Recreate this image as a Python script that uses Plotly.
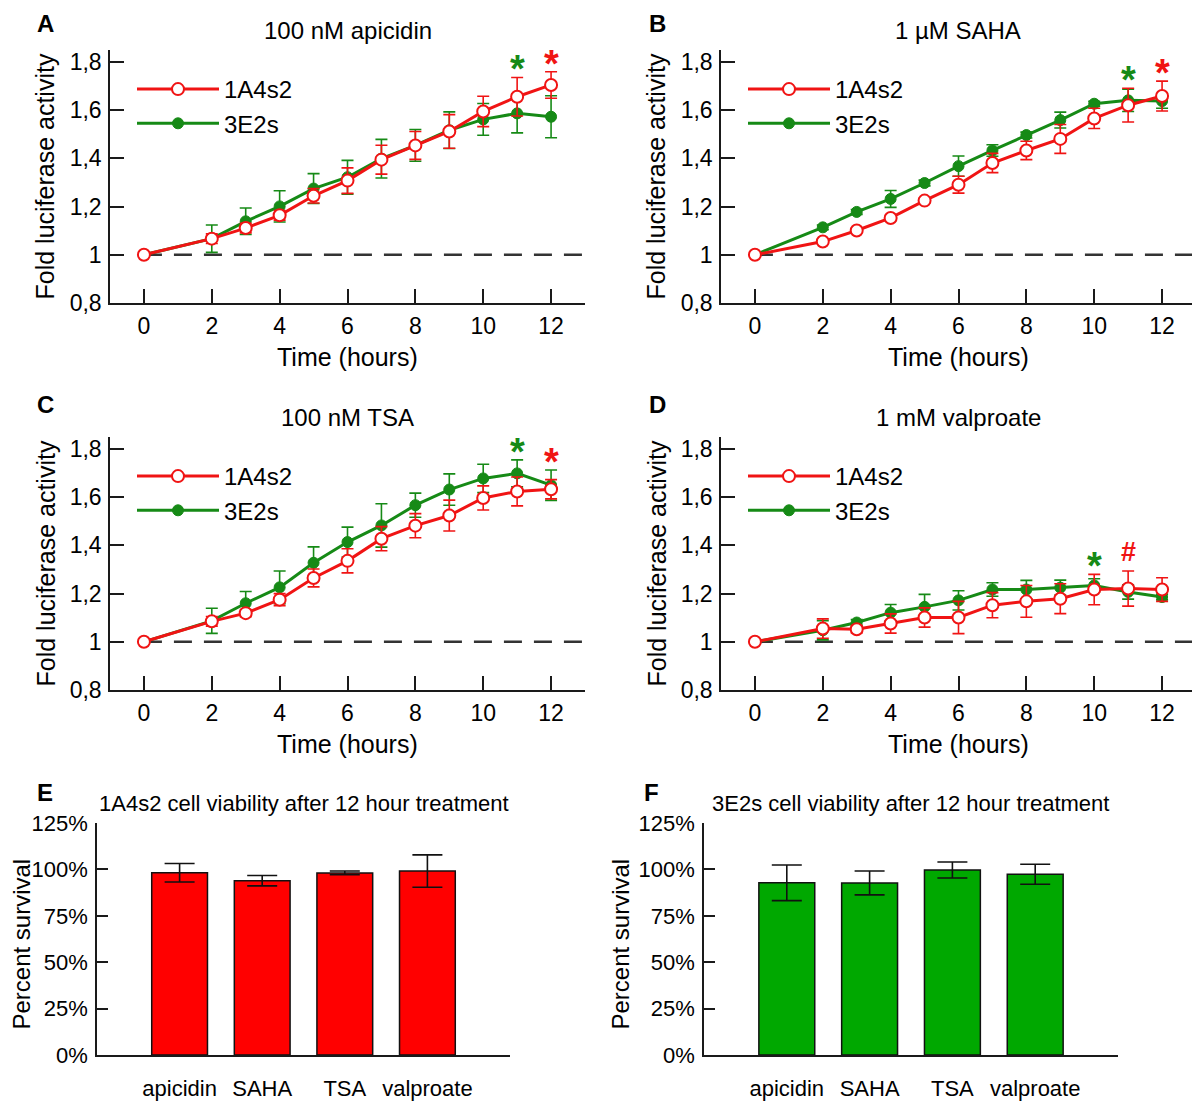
import plotly.graph_objects as go

# ---------------- data ----------------
times = [0, 2, 3, 4, 5, 6, 7, 8, 9, 10, 11, 12]

A_1A4s2 = [1.000, 1.067, 1.111, 1.164, 1.245, 1.308, 1.395, 1.454, 1.512, 1.595, 1.656, 1.705]
A_1A4s2_err = [0, 0.02, 0.02, 0.02, 0.03, 0.053, 0.06, 0.058, 0.07, 0.063, 0.08, 0.055]
A_3E2s = [1.000, 1.067, 1.139, 1.201, 1.275, 1.322, 1.399, 1.454, 1.517, 1.562, 1.587, 1.573]
A_3E2s_err = [0, 0.057, 0.055, 0.065, 0.062, 0.07, 0.08, 0.066, 0.076, 0.066, 0.081, 0.087]

B_1A4s2 = [1.000, 1.055, 1.101, 1.153, 1.225, 1.291, 1.381, 1.433, 1.481, 1.566, 1.621, 1.659]
B_1A4s2_err = [0, 0.008, 0.008, 0.01, 0.01, 0.035, 0.04, 0.038, 0.06, 0.042, 0.07, 0.062]
B_3E2s = [1.000, 1.114, 1.178, 1.232, 1.298, 1.368, 1.433, 1.497, 1.559, 1.627, 1.641, 1.638]
B_3E2s_err = [0, 0.01, 0.01, 0.035, 0.012, 0.042, 0.024, 0.012, 0.033, 0.01, 0.046, 0.03]

C_1A4s2 = [1.000, 1.085, 1.119, 1.175, 1.265, 1.336, 1.428, 1.482, 1.524, 1.597, 1.624, 1.633]
C_1A4s2_err = [0, 0.02, 0.015, 0.025, 0.037, 0.05, 0.05, 0.05, 0.064, 0.05, 0.06, 0.04]
C_3E2s = [1.000, 1.087, 1.160, 1.226, 1.328, 1.414, 1.483, 1.567, 1.632, 1.678, 1.699, 1.650]
C_3E2s_err = [0, 0.052, 0.049, 0.068, 0.066, 0.062, 0.09, 0.05, 0.065, 0.059, 0.056, 0.063]

D_1A4s2 = [1.000, 1.055, 1.052, 1.076, 1.101, 1.101, 1.152, 1.168, 1.179, 1.217, 1.221, 1.217]
D_1A4s2_err = [0, 0.04, 0.015, 0.04, 0.04, 0.067, 0.052, 0.066, 0.062, 0.063, 0.073, 0.049]
D_3E2s = [1.000, 1.048, 1.080, 1.121, 1.145, 1.172, 1.217, 1.217, 1.225, 1.234, 1.207, 1.186]
D_3E2s_err = [0, 0.04, 0.012, 0.034, 0.052, 0.04, 0.028, 0.038, 0.031, 0.028, 0.03, 0.012]

panel_titles = ["100 nM apicidin", "1 µM SAHA", "100 nM TSA", "1 mM valproate"]
panel_letters = ["A", "B", "C", "D", "E", "F"]

# significance marks: (time, symbol, series)
sig_A = [(11, "*", "3E2s"), (12, "*", "1A4s2")]
sig_B = [(11, "*", "3E2s"), (12, "*", "1A4s2")]
sig_C = [(11, "*", "3E2s"), (12, "*", "1A4s2")]
sig_D = [(10, "*", "3E2s"), (11, "#", "1A4s2")]

y_tickvals = [0.8, 1.0, 1.2, 1.4, 1.6, 1.8]
y_ticktext = ["0,8", "1", "1,2", "1,4", "1,6", "1,8"]
x_tickvals = [0, 2, 4, 6, 8, 10, 12]

drugs = ["apicidin", "SAHA", "TSA", "valproate"]
E_surv = [98.2, 93.9, 98.1, 99.1]
E_err = [5.0, 2.8, 1.0, 8.7]
F_surv = [92.8, 92.7, 99.7, 97.4]
F_err = [9.6, 6.4, 4.3, 5.4]
pct_tickvals = [0, 25, 50, 75, 100, 125]
pct_ticktext = ["0%", "25%", "50%", "75%", "100%", "125%"]

# ---------------- style ----------------
W, H = 1200, 1105
OFF = 8  # page body margin offset
FONT = "Liberation Sans, Arial, sans-serif"
RED = "#f01414"
GREEN = "#168a16"
BAR_RED = "#ff0000"
BAR_GREEN = "#00a800"
AX = "#1a1a1a"


def px_x(p):
    return (p - OFF) / W


def px_y(p):
    return 1 - (p - OFF) / H


# pixel boxes in the final picture (left, right, top, bottom)
boxes = {
    1: (110, 585, 50, 303),
    2: (721, 1196, 50, 303),
    3: (110, 585, 437, 690),
    4: (721, 1196, 437, 690),
    5: (97, 510, 823, 1055),
    6: (704, 1118, 823, 1055),
}
letter_pos = [(36, 24), (648, 24), (36, 404), (648, 404), (36, 792), (643, 792)]
survival_title_x = [22, 621]

fig = go.Figure()
layout = dict(
    width=W, height=H, autosize=False,
    margin=dict(l=0, r=0, t=0, b=0, pad=0, autoexpand=False),
    paper_bgcolor="white", plot_bgcolor="white",
    font=dict(family=FONT, size=22, color="black"),
    showlegend=True,
)
annotations = []
shapes = []

line_panels = [
    (A_1A4s2, A_1A4s2_err, A_3E2s, A_3E2s_err, sig_A),
    (B_1A4s2, B_1A4s2_err, B_3E2s, B_3E2s_err, sig_B),
    (C_1A4s2, C_1A4s2_err, C_3E2s, C_3E2s_err, sig_C),
    (D_1A4s2, D_1A4s2_err, D_3E2s, D_3E2s_err, sig_D),
]

for i, (r, re, g, ge, sig) in enumerate(line_panels):
    k = i + 1
    xs = "x" if k == 1 else f"x{k}"
    ys = "y" if k == 1 else f"y{k}"
    lg = "legend" if k == 1 else f"legend{k}"
    L, R, T, B = boxes[k]
    layout["xaxis" if k == 1 else f"xaxis{k}"] = dict(
        domain=[px_x(L), px_x(R)], anchor=ys, range=[-1, 13], automargin=False,
        tickvals=x_tickvals, ticks="inside", ticklen=14, tickwidth=1.5, tickcolor=AX,
        showline=True, linecolor=AX, linewidth=1.5, showgrid=False, zeroline=False,
        tickfont=dict(size=23), ticklabelstandoff=2,
    )
    layout["yaxis" if k == 1 else f"yaxis{k}"] = dict(
        domain=[px_y(B), px_y(T)], anchor=xs, range=[0.8, 1.85], automargin=False,
        tickvals=y_tickvals, ticktext=y_ticktext, ticks="inside", ticklen=14,
        tickwidth=1.5, tickcolor=AX, showline=True, linecolor=AX, linewidth=1.5,
        showgrid=False, zeroline=False, tickfont=dict(size=23), ticklabelstandoff=2,
    )
    # reference dashed line at 1
    shapes.append(dict(type="line", xref=xs, yref=ys, x0=times[0], x1=13, y0=1, y1=1,
                       line=dict(color="#333333", width=2.5, dash="18px,12px"), layer="below"))
    fig.add_trace(go.Scatter(
        x=times, y=g, mode="lines+markers", name="3E2s", xaxis=xs, yaxis=ys, legend=lg,
        line=dict(color=GREEN, width=3),
        marker=dict(color=GREEN, size=11, line=dict(color=GREEN, width=1)),
        error_y=dict(type="data", array=ge, color=GREEN, thickness=1.6, width=6),
        legendrank=2,
    ))
    fig.add_trace(go.Scatter(
        x=times, y=r, mode="lines+markers", name="1A4s2", xaxis=xs, yaxis=ys, legend=lg,
        line=dict(color=RED, width=3),
        marker=dict(color="white", size=12, line=dict(color=RED, width=2)),
        error_y=dict(type="data", array=re, color=RED, thickness=1.6, width=6),
        legendrank=1,
    ))
    layout[lg] = dict(
        x=px_x(L + 22), y=px_y(T + 17), xanchor="left", yanchor="top",
        bgcolor="rgba(0,0,0,0)", font=dict(size=24), traceorder="normal",
        itemwidth=82, tracegroupgap=0,
    )
    # title
    annotations.append(dict(text=panel_titles[i], x=(px_x(L) + px_x(R)) / 2, y=px_y(T - 20),
                            xref="paper", yref="paper", showarrow=False,
                            font=dict(size=24), xanchor="center", yanchor="middle"))
    # letter
    lx, ly = letter_pos[i]
    annotations.append(dict(text=f"<b>{panel_letters[i]}</b>", x=px_x(lx), y=px_y(ly),
                            xref="paper", yref="paper", showarrow=False, borderpad=0,
                            font=dict(size=24), xanchor="left", yanchor="middle"))
    # axis titles
    annotations.append(dict(text="Fold luciferase activity", x=px_x(L - 65), y=(px_y(T) + px_y(B)) / 2,
                            xref="paper", yref="paper", showarrow=False, textangle=-90,
                            font=dict(size=25), xanchor="center", yanchor="middle"))
    annotations.append(dict(text="Time (hours)", x=(px_x(L) + px_x(R)) / 2, y=px_y(B + 54),
                            xref="paper", yref="paper", showarrow=False,
                            font=dict(size=25), xanchor="center", yanchor="middle"))
    # significance marks
    for (t, sym, ser) in sig:
        idx = times.index(t)
        top = max(r[idx] + re[idx], g[idx] + ge[idx])
        col = RED if ser == "1A4s2" else GREEN
        if sym == "*":
            annotations.append(dict(text=f"<b>{sym}</b>", x=t, y=top, xref=xs, yref=ys,
                                    showarrow=False, font=dict(size=38, color=col),
                                    xanchor="center", yanchor="bottom", yshift=-15))
        else:
            annotations.append(dict(text=f"<b>{sym}</b>", x=t, y=top, xref=xs, yref=ys,
                                    showarrow=False, font=dict(size=27, color=col),
                                    xanchor="center", yanchor="bottom", yshift=2))

bar_panels = [
    (E_surv, E_err, BAR_RED, "1A4s2 cell viability after 12 hour treatment"),
    (F_surv, F_err, BAR_GREEN, "3E2s cell viability after 12 hour treatment"),
]
for j, (vals, errs, col, title) in enumerate(bar_panels):
    k = 5 + j
    xs, ys = f"x{k}", f"y{k}"
    L, R, T, B = boxes[k]
    layout[f"xaxis{k}"] = dict(
        domain=[px_x(L), px_x(R)], anchor=ys, type="category", range=[-1, 4],
        automargin=False,
        showline=True, linecolor=AX, linewidth=1.5, ticks="", showgrid=False,
        tickfont=dict(size=22), ticklabelstandoff=13,
    )
    layout[f"yaxis{k}"] = dict(
        domain=[px_y(B), px_y(T)], anchor=xs, range=[0, 125], automargin=False,
        tickvals=pct_tickvals, ticktext=pct_ticktext, ticks="inside", ticklen=11,
        tickwidth=1.5, tickcolor=AX, showline=True, linecolor=AX, linewidth=1.5,
        showgrid=False, zeroline=False, tickfont=dict(size=22), ticklabelstandoff=3,
    )
    fig.add_trace(go.Bar(
        x=drugs, y=vals, xaxis=xs, yaxis=ys, showlegend=False, width=0.675,
        marker=dict(color=col, line=dict(color="#111111", width=1.5)),
        error_y=dict(type="data", array=errs, color="#111111", thickness=1.6, width=15),
    ))
    annotations.append(dict(text=title, x=(px_x(L) + px_x(R)) / 2, y=px_y(T - 20),
                            xref="paper", yref="paper", showarrow=False,
                            font=dict(size=22), xanchor="center", yanchor="middle"))
    lx, ly = letter_pos[k - 1]
    annotations.append(dict(text=f"<b>{panel_letters[k - 1]}</b>", x=px_x(lx), y=px_y(ly),
                            xref="paper", yref="paper", showarrow=False, borderpad=0,
                            font=dict(size=24), xanchor="left", yanchor="middle"))
    annotations.append(dict(text="Percent survival", x=px_x(survival_title_x[j]),
                            y=(px_y(T) + px_y(B)) / 2 - 0.005,
                            xref="paper", yref="paper", showarrow=False, textangle=-90, borderpad=0,
                            font=dict(size=24), xanchor="center", yanchor="middle"))

layout["annotations"] = annotations
layout["shapes"] = shapes
fig.update_layout(**layout)
fig.write_html("out.html")
